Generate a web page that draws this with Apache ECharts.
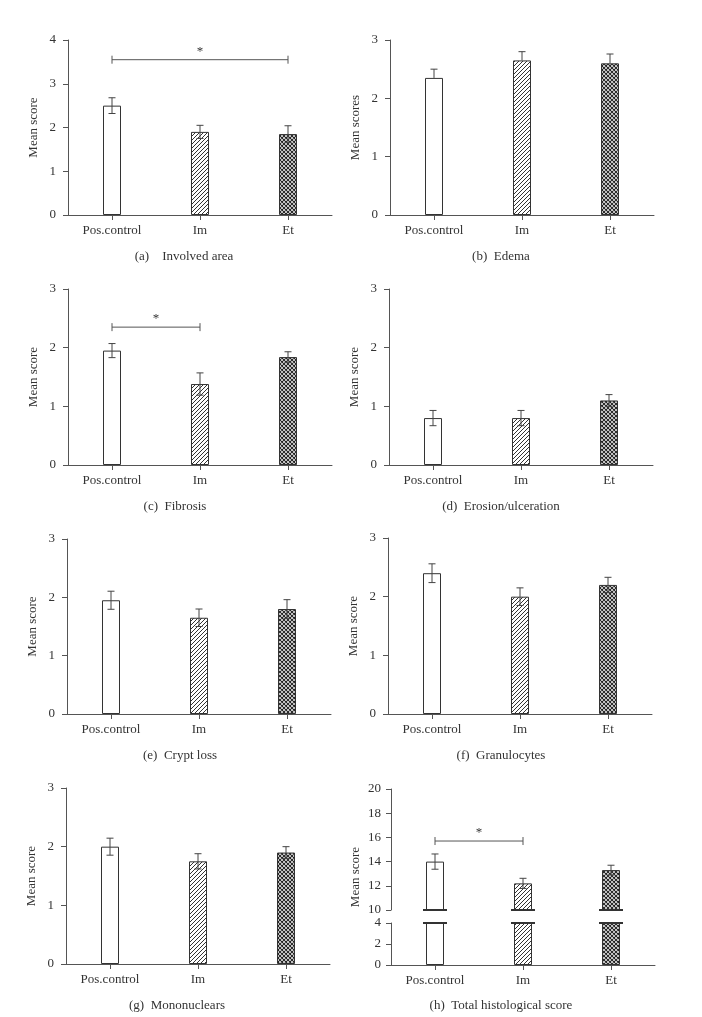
<!DOCTYPE html>
<html><head><meta charset="utf-8">
<script src="https://cdn.jsdelivr.net/npm/echarts@6/dist/echarts.min.js"></script>
<style>html,body{margin:0;padding:0;background:#fff}#c{width:702px;height:1017px}</style>
</head><body><div id="c"></div>
<script>
// ---------------- DATA ----------------
const categories = ['Pos.control', 'Im', 'Et'];
const captions = ['(a)\u2003Involved area', '(b)\u2002Edema', '(c)\u2002Fibrosis', '(d)\u2002Erosion/ulceration',
                  '(e)\u2002Crypt loss', '(f)\u2002Granulocytes', '(g)\u2002Mononuclears', '(h)\u2002Total histological score'];
const yTitles = ['Mean score', 'Mean scores', 'Mean score', 'Mean score', 'Mean score', 'Mean score', 'Mean score', 'Mean score'];

const involvedMean = [2.5, 1.9, 1.85];   const involvedErr = [0.18, 0.15, 0.19];
const edemaMean = [2.35, 2.65, 2.6];     const edemaErr = [0.15, 0.15, 0.16];
const fibrosisMean = [1.95, 1.38, 1.84]; const fibrosisErr = [0.12, 0.19, 0.09];
const erosionMean = [0.8, 0.8, 1.1];     const erosionErr = [0.13, 0.13, 0.1];
const cryptMean = [1.95, 1.65, 1.8];     const cryptErr = [0.155, 0.15, 0.16];
const granuloMean = [2.4, 2.0, 2.2];     const granuloErr = [0.16, 0.15, 0.13];
const mononucMean = [2.0, 1.75, 1.9];    const mononucErr = [0.145, 0.13, 0.1];
const totalMean = [14.0, 12.2, 13.3];    const totalErr = [0.63, 0.42, 0.4];

const yMaxes = [4, 3, 3, 3, 3, 3, 3];
const yIntervals = [1, 1, 1, 1, 1, 1, 1];
const totalUpperRange = [10, 20];  const totalUpperInterval = 2;
const totalLowerRange = [0, 4];    const totalLowerInterval = 2;
const upperOnlyErrors = [false, true, false, false, false, false, false, false];

// significance brackets: panel index, from category, to category, height (data units)
const sigPanels = [0, 2, 7];
const sigFrom = [0, 0, 0];
const sigTo = [2, 1, 1];
const sigLevel = [3.55, 2.35, 15.7];

// ---------------- LAYOUT ----------------
const F = 'Liberation Serif, Times New Roman, serif';
const TXT = '#333';
const AX = '#555';
const grids = [
  {left: 68, top: 40, width: 264, height: 175},
  {left: 390, top: 40, width: 264, height: 175},
  {left: 68, top: 289, width: 264, height: 176},
  {left: 389, top: 289, width: 264, height: 176},
  {left: 67, top: 539, width: 264, height: 175},
  {left: 388, top: 538, width: 264, height: 176},
  {left: 66, top: 788, width: 264, height: 176},
  {left: 391, top: 789, width: 264, height: 121},   // h upper
  {left: 391, top: 923, width: 264, height: 42}     // h lower
];
const captionPos = [[184, 257], [501, 257], [175, 507], [501, 507], [180, 756], [501, 756], [177, 1006], [501, 1006]];

function makeHatch() {
  const c = document.createElement('canvas'); c.width = 4; c.height = 4;
  const g = c.getContext('2d');
  g.fillStyle = '#fff'; g.fillRect(0, 0, 4, 4);
  g.strokeStyle = '#333'; g.lineWidth = 1;
  g.beginPath();
  g.moveTo(-1, 5); g.lineTo(5, -1);
  g.moveTo(-1, 1); g.lineTo(1, -1);
  g.moveTo(3, 5); g.lineTo(5, 3);
  g.stroke();
  return c;
}
function makeCross() {
  const c = document.createElement('canvas'); c.width = 4; c.height = 4;
  const g = c.getContext('2d');
  g.fillStyle = '#fff'; g.fillRect(0, 0, 4, 4);
  g.strokeStyle = '#222'; g.lineWidth = 1.1;
  g.beginPath();
  g.moveTo(-1, 5); g.lineTo(5, -1);
  g.moveTo(-1, -1); g.lineTo(5, 5);
  g.moveTo(-1, 1); g.lineTo(1, -1);
  g.moveTo(3, 5); g.lineTo(5, 3);
  g.moveTo(3, -1); g.lineTo(5, 1);
  g.moveTo(-1, 3); g.lineTo(1, 5);
  g.stroke();
  return c;
}
const fills = ['#ffffff', {image: makeHatch(), repeat: 'repeat'}, {image: makeCross(), repeat: 'repeat'}];

const panelMeans = [involvedMean, edemaMean, fibrosisMean, erosionMean, cryptMean, granuloMean, mononucMean, totalMean];
const panelErrs = [involvedErr, edemaErr, fibrosisErr, erosionErr, cryptErr, granuloErr, mononucErr, totalErr];

const xAxes = [], yAxes = [], series = [];
const labelStyle = {fontFamily: F, fontSize: 13, color: TXT};

function addX(gi, show) {
  xAxes.push({
    gridIndex: gi, type: 'category', data: categories, show: show,
    axisLine: {show: true, lineStyle: {color: AX, width: 1}},
    axisTick: {show: true, alignWithLabel: true, length: 5, lineStyle: {color: AX}},
    axisLabel: Object.assign({margin: 9}, labelStyle),
    splitLine: {show: false}
  });
}
function addY(gi, min, max, interval, name, margin) {
  yAxes.push({
    gridIndex: gi, type: 'value', min: min, max: max, interval: interval,
    startValue: min,
    name: name, nameLocation: 'middle', nameGap: name ? 28 : 0,
    nameTextStyle: {fontFamily: F, fontSize: 13, color: TXT},
    axisLine: {show: true, lineStyle: {color: AX, width: 1}},
    axisTick: {show: true, length: 5, lineStyle: {color: AX}},
    axisLabel: Object.assign({margin: margin}, labelStyle),
    splitLine: {show: false}
  });
}
function barSeries(gi, values) {
  return {
    type: 'bar', xAxisIndex: gi, yAxisIndex: gi, barWidth: 18, clip: true, z: 2,
    data: values.map((v, j) => ({value: v, itemStyle: {color: fills[j]}})),
    itemStyle: {borderColor: '#333', borderWidth: 1},
    emphasis: {disabled: true}, silent: true
  };
}
function errSeries(gi, means, errs, upperOnly) {
  return {
    type: 'custom', xAxisIndex: gi, yAxisIndex: gi, z: 5, silent: true,
    encode: {x: 0, y: 1},
    data: means.map((m, j) => [j, m, errs[j], upperOnly ? 1 : 0]),
    renderItem: function (params, api) {
      const x = api.value(0), m = api.value(1), e = api.value(2), up = api.value(3);
      const t = api.coord([x, m + e]);
      const b = api.coord([x, up ? m : m - e]);
      const hw = 3.5, st = {stroke: '#444', lineWidth: 1};
      const ch = [
        {type: 'line', shape: {x1: t[0], y1: t[1], x2: b[0], y2: b[1]}, style: st},
        {type: 'line', shape: {x1: t[0] - hw, y1: t[1], x2: t[0] + hw, y2: t[1]}, style: st}
      ];
      if (!up) ch.push({type: 'line', shape: {x1: b[0] - hw, y1: b[1], x2: b[0] + hw, y2: b[1]}, style: st});
      return {type: 'group', children: ch};
    }
  };
}
function breakSeries(gi, level) {
  return {
    type: 'custom', xAxisIndex: gi, yAxisIndex: gi, z: 6, silent: true,
    encode: {x: 0, y: 1},
    data: categories.map((c, j) => [j, level]),
    renderItem: function (params, api) {
      const p = api.coord([api.value(0), api.value(1)]);
      return {type: 'line', shape: {x1: p[0] - 12, y1: p[1], x2: p[0] + 12, y2: p[1]},
              style: {stroke: '#333', lineWidth: 2}};
    }
  };
}

for (let i = 0; i < 7; i++) {
  addX(i, true);
  addY(i, 0, yMaxes[i], yIntervals[i], yTitles[i], 12);
  series.push(barSeries(i, panelMeans[i]));
  series.push(errSeries(i, panelMeans[i], panelErrs[i], upperOnlyErrors[i]));
}
// panel h: broken axis
addX(7, false);
addY(7, totalUpperRange[0], totalUpperRange[1], totalUpperInterval, '', 10);
addX(8, true);
addY(8, totalLowerRange[0], totalLowerRange[1], totalLowerInterval, '', 10);
series.push(barSeries(7, totalMean));
series.push(errSeries(7, totalMean, totalErr, false));
series.push(barSeries(8, totalMean.map(v => Math.min(v, totalLowerRange[1]))));
series.push(breakSeries(7, totalUpperRange[0]));
series.push(breakSeries(8, totalLowerRange[1]));

// significance brackets
const gridForPanel = [0, 1, 2, 3, 4, 5, 6, 7];
sigPanels.forEach((p, k) => {
  const gi = gridForPanel[p];
  series.push({
    type: 'custom', xAxisIndex: gi, yAxisIndex: gi, z: 6, silent: true,
    encode: {x: 0, y: 2},
    data: [[sigFrom[k], sigTo[k], sigLevel[k]]],
    renderItem: function (params, api) {
      const a = api.coord([api.value(0), api.value(2)]);
      const b = api.coord([api.value(1), api.value(2)]);
      const st = {stroke: '#555', lineWidth: 1};
      return {type: 'group', children: [
        {type: 'line', shape: {x1: a[0], y1: a[1], x2: b[0], y2: b[1]}, style: st},
        {type: 'line', shape: {x1: a[0], y1: a[1] - 4, x2: a[0], y2: a[1] + 4}, style: st},
        {type: 'line', shape: {x1: b[0], y1: b[1] - 4, x2: b[0], y2: b[1] + 4}, style: st},
        {type: 'text', style: {text: '*', x: (a[0] + b[0]) / 2, y: a[1] - 2, align: 'center', verticalAlign: 'bottom',
          font: '13px ' + F, fill: TXT}}
      ]};
    }
  });
});

// h y-axis title (spans the broken axis)
const graphics = captions.map((t, i) => ({
  type: 'text', silent: true,
  style: {text: t, x: captionPos[i][0], y: captionPos[i][1], align: 'center', verticalAlign: 'middle',
          font: '13px ' + F, fill: TXT}
}));
graphics.push({
  type: 'text', silent: true, rotation: Math.PI / 2, x: 356, y: 877,
  style: {text: yTitles[7], x: 0, y: 0, align: 'center', verticalAlign: 'middle', font: '13px ' + F, fill: TXT}
});

const chart = echarts.init(document.getElementById('c'), null, {renderer: 'canvas'});
chart.setOption({
  animation: false,
  backgroundColor: '#fff',
  grid: grids.map(g => Object.assign({containLabel: false}, g)),
  xAxis: xAxes,
  yAxis: yAxes,
  series: series,
  graphic: graphics
});
</script>
</body></html>
